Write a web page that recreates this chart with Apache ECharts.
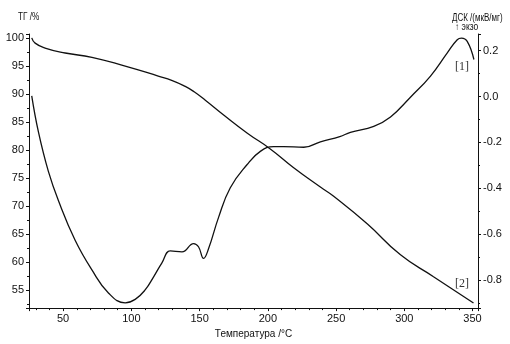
<!DOCTYPE html>
<html>
<head>
<meta charset="utf-8">
<script src="https://cdn.jsdelivr.net/npm/echarts@6/dist/echarts.min.js"></script>
<style>
  html, body { margin: 0; padding: 0; background: #fff; }
  #chart { width: 510px; height: 344px; }
</style>
</head>
<body>
<div id="chart"></div>
<script>
// temperature (°C) / mass loss (%) - curve [2]
const tgTemp = [27, 29.5, 36.8, 51.5, 71.1, 95.5, 119.7, 130, 139.5, 146, 154.2, 167.4, 185, 201.8, 218.7, 238.5, 248, 273, 297.2, 321.4, 350.7];
const tgValues = [100, 99.07, 98.19, 97.31, 96.54, 94.96, 93.2, 92.4, 91.35, 90.4, 88.9, 86.3, 83.0, 80.2, 76.9, 73.4, 71.8, 66.8, 61.3, 57.4, 52.7];

// temperature (°C) / DSC signal (мкВ/мг) - curve [1]
const dscTemp = [27, 31.9, 39.2, 46.6, 58.8, 71.1, 83.2, 95.5, 102.8, 110.1, 116.2, 122.4, 128.5, 137.1, 145.6, 149.2, 152.9, 156.6, 163.9, 172.5, 184.7, 194.5, 204.3, 211.6, 226.3, 238.5, 252.7, 260.5, 277.6, 289.9, 304.5, 319.2, 331.5, 338.8, 341.9, 346.1, 351];
const dscValues = [0.003, -0.154, -0.326, -0.454, -0.626, -0.755, -0.855, -0.898, -0.883, -0.842, -0.786, -0.724, -0.672, -0.676, -0.64, -0.654, -0.705, -0.662, -0.526, -0.397, -0.297, -0.239, -0.218, -0.218, -0.221, -0.197, -0.175, -0.156, -0.13, -0.089, -0.003, 0.089, 0.19, 0.247, 0.254, 0.24, 0.161];

const chart = echarts.init(document.getElementById("chart"));
const ink = "#111";
const font = "Liberation Sans";

const axisCommon = {
    axisLine: { show: true, onZero: false, lineStyle: { color: ink, width: 1 } },
    axisTick: { show: true, length: 3, lineStyle: { color: ink } },
    splitLine: { show: false },
    minorSplitLine: { show: false }
};

chart.setOption({
    animation: false,
    backgroundColor: "#fff",
    grid: { left: 29, right: 32, top: 34, bottom: 32 },
    xAxis: Object.assign({}, axisCommon, {
        type: "value",
        min: 25,
        max: 354,
        splitNumber: 7,
        minorTick: { show: true, splitNumber: 5, length: 2, lineStyle: { color: ink } },
        axisLabel: { color: ink, fontFamily: font, fontSize: 11, margin: 5, showMinLabel: false, showMaxLabel: false },
        name: "Температура /°C",
        nameLocation: "middle",
        nameGap: 16,
        nameTextStyle: { color: ink, fontFamily: font, fontSize: 10 }
    }),
    yAxis: [
        Object.assign({}, axisCommon, {
            type: "value",
            position: "left",
            min: 51.8,
            max: 100.7,
            splitNumber: 10,
            minorTick: { show: true, splitNumber: 2, length: 2, lineStyle: { color: ink } },
            axisLabel: { color: ink, fontFamily: font, fontSize: 11, margin: 5, showMinLabel: false, showMaxLabel: false }
        }),
        Object.assign({}, axisCommon, {
            type: "value",
            position: "right",
            min: -0.921,
            max: 0.272,
            splitNumber: 6,
            minorTick: { show: true, splitNumber: 2, length: 2, lineStyle: { color: ink } },
            axisLabel: {
                color: ink, fontFamily: font, fontSize: 11, margin: 5,
                showMinLabel: false, showMaxLabel: false,
                formatter: v => v.toFixed(1)
            }
        })
    ],
    series: [
        {
            type: "line",
            yAxisIndex: 0,
            data: tgTemp.map((t, i) => [t, tgValues[i]]),
            smooth: 0.5,
            showSymbol: false,
            lineStyle: { color: ink, width: 1.3 }
        },
        {
            type: "line",
            yAxisIndex: 1,
            data: dscTemp.map((t, i) => [t, dscValues[i]]),
            smooth: 0.45,
            showSymbol: false,
            lineStyle: { color: ink, width: 1.3 }
        }
    ],
    graphic: [
        // titles are condensed in the original, squeeze them horizontally
        { type: "text", x: 18, y: 12, scaleX: 0.82, style: { text: "ТГ /%", fill: ink, font: "10px " + font } },
        { type: "text", x: 452, y: 13, scaleX: 0.8, style: { text: "ДСК /(мкВ/мг)", fill: ink, font: "10px " + font } },
        { type: "text", x: 455, y: 22, scaleX: 0.85, style: { text: "↑ экзо", fill: ink, font: "10px " + font } },
        { type: "text", x: 455, y: 61, style: { text: "[1]", fill: "#333", font: "12px Liberation Serif" } },
        { type: "text", x: 455, y: 278, style: { text: "[2]", fill: "#333", font: "12px Liberation Serif" } }
    ]
});
</script>
</body>
</html>
